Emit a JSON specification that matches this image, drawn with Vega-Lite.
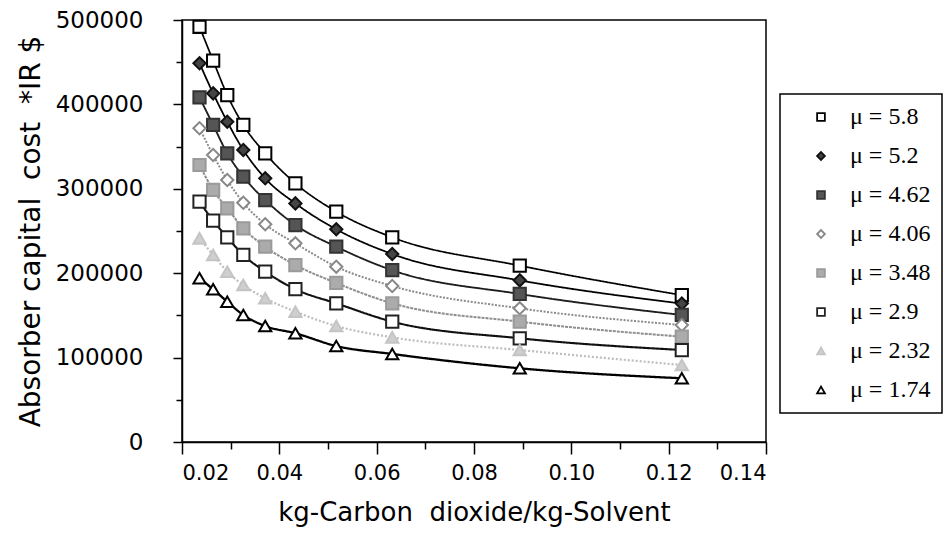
{
  "$schema": "https://vega.github.io/schema/vega-lite/v6.json",
  "width": 584,
  "height": 422,
  "autosize": {"type": "none"},
  "padding": {"left": 182, "top": 20, "right": 179, "bottom": 98},
  "background": "white",
  "config": {
    "view": {"stroke": "#000", "strokeWidth": 1.5},
    "axis": {
      "domainColor": "#000",
      "domainWidth": 1.5,
      "tickColor": "#000",
      "tickWidth": 1.5,
      "labelColor": "#000",
      "titleColor": "#000",
      "labelFont": "DejaVu Sans",
      "titleFont": "DejaVu Sans",
      "titleFontWeight": "normal",
      "grid": false
    },
    "legend": {
      "orient": "none",
      "legendX": 598,
      "legendY": 74,
      "padding": 11,
      "symbolOffset": 18,
      "symbolSize": 60,
      "symbolStrokeWidth": 1.8,
      "labelFont": "Liberation Serif",
      "labelFontSize": 24,
      "labelColor": "#000",
      "labelOffset": 17,
      "labelLimit": 400,
      "rowPadding": 15,
      "strokeColor": "#000",
      "strokeWidth": 1.5,
      "fillColor": "white"
    }
  },
  "datasets": {
    "pts": [
      {"x": 0.0236, "y": 492000, "mu": "5.8"}, {"x": 0.0264, "y": 451800, "mu": "5.8"}, {"x": 0.0293, "y": 411100, "mu": "5.8"}, {"x": 0.0326, "y": 375600, "mu": "5.8"}, {"x": 0.0371, "y": 342000, "mu": "5.8"}, {"x": 0.0433, "y": 306500, "mu": "5.8"}, {"x": 0.0517, "y": 272900, "mu": "5.8"}, {"x": 0.0632, "y": 242500, "mu": "5.8"}, {"x": 0.0894, "y": 209000, "mu": "5.8"}, {"x": 0.1227, "y": 174000, "mu": "5.8"},
      {"x": 0.0236, "y": 448700, "mu": "5.2"}, {"x": 0.0264, "y": 413100, "mu": "5.2"}, {"x": 0.0293, "y": 379500, "mu": "5.2"}, {"x": 0.0326, "y": 346000, "mu": "5.2"}, {"x": 0.0371, "y": 312400, "mu": "5.2"}, {"x": 0.0433, "y": 282700, "mu": "5.2"}, {"x": 0.0517, "y": 252000, "mu": "5.2"}, {"x": 0.0632, "y": 222700, "mu": "5.2"}, {"x": 0.0894, "y": 191500, "mu": "5.2"}, {"x": 0.1227, "y": 164000, "mu": "5.2"},
      {"x": 0.0236, "y": 408400, "mu": "4.62"}, {"x": 0.0264, "y": 375600, "mu": "4.62"}, {"x": 0.0293, "y": 342000, "mu": "4.62"}, {"x": 0.0326, "y": 314300, "mu": "4.62"}, {"x": 0.0371, "y": 286700, "mu": "4.62"}, {"x": 0.0433, "y": 257100, "mu": "4.62"}, {"x": 0.0517, "y": 231400, "mu": "4.62"}, {"x": 0.0632, "y": 203500, "mu": "4.62"}, {"x": 0.0894, "y": 175400, "mu": "4.62"}, {"x": 0.1227, "y": 150500, "mu": "4.62"},
      {"x": 0.0236, "y": 371700, "mu": "4.06"}, {"x": 0.0264, "y": 340000, "mu": "4.06"}, {"x": 0.0293, "y": 310400, "mu": "4.06"}, {"x": 0.0326, "y": 283500, "mu": "4.06"}, {"x": 0.0371, "y": 258000, "mu": "4.06"}, {"x": 0.0433, "y": 235400, "mu": "4.06"}, {"x": 0.0517, "y": 207700, "mu": "4.06"}, {"x": 0.0632, "y": 184800, "mu": "4.06"}, {"x": 0.0894, "y": 158400, "mu": "4.06"}, {"x": 0.1227, "y": 138600, "mu": "4.06"},
      {"x": 0.0236, "y": 328200, "mu": "3.48"}, {"x": 0.0264, "y": 298600, "mu": "3.48"}, {"x": 0.0293, "y": 276900, "mu": "3.48"}, {"x": 0.0326, "y": 253200, "mu": "3.48"}, {"x": 0.0371, "y": 231400, "mu": "3.48"}, {"x": 0.0433, "y": 209700, "mu": "3.48"}, {"x": 0.0517, "y": 188400, "mu": "3.48"}, {"x": 0.0632, "y": 164300, "mu": "3.48"}, {"x": 0.0894, "y": 142600, "mu": "3.48"}, {"x": 0.1227, "y": 124800, "mu": "3.48"},
      {"x": 0.0236, "y": 284700, "mu": "2.9"}, {"x": 0.0264, "y": 262200, "mu": "2.9"}, {"x": 0.0293, "y": 242500, "mu": "2.9"}, {"x": 0.0326, "y": 221600, "mu": "2.9"}, {"x": 0.0371, "y": 201900, "mu": "2.9"}, {"x": 0.0433, "y": 181000, "mu": "2.9"}, {"x": 0.0517, "y": 164300, "mu": "2.9"}, {"x": 0.0632, "y": 142600, "mu": "2.9"}, {"x": 0.0894, "y": 122900, "mu": "2.9"}, {"x": 0.1227, "y": 109000, "mu": "2.9"},
      {"x": 0.0236, "y": 241300, "mu": "2.32"}, {"x": 0.0264, "y": 221600, "mu": "2.32"}, {"x": 0.0293, "y": 201800, "mu": "2.32"}, {"x": 0.0326, "y": 186000, "mu": "2.32"}, {"x": 0.0371, "y": 170300, "mu": "2.32"}, {"x": 0.0433, "y": 154400, "mu": "2.32"}, {"x": 0.0517, "y": 137400, "mu": "2.32"}, {"x": 0.0632, "y": 124000, "mu": "2.32"}, {"x": 0.0894, "y": 109000, "mu": "2.32"}, {"x": 0.1227, "y": 91200, "mu": "2.32"},
      {"x": 0.0236, "y": 194000, "mu": "1.74"}, {"x": 0.0264, "y": 180900, "mu": "1.74"}, {"x": 0.0293, "y": 166200, "mu": "1.74"}, {"x": 0.0326, "y": 150500, "mu": "1.74"}, {"x": 0.0371, "y": 137400, "mu": "1.74"}, {"x": 0.0433, "y": 128800, "mu": "1.74"}, {"x": 0.0517, "y": 113700, "mu": "1.74"}, {"x": 0.0632, "y": 104300, "mu": "1.74"}, {"x": 0.0894, "y": 87300, "mu": "1.74"}, {"x": 0.1227, "y": 75500, "mu": "1.74"}
    ]
  },
  "data": {"name": "pts"},
  "encoding": {
    "x": {
      "field": "x",
      "type": "quantitative",
      "scale": {"domain": [0.02, 0.14], "nice": false, "zero": false},
      "axis": {
        "title": "kg-Carbon \u00a0dioxide/kg-Solvent",
        "titleFontSize": 26,
        "titlePadding": 16,
        "values": [0.02, 0.03, 0.04, 0.05, 0.06, 0.07, 0.08, 0.09, 0.10, 0.11, 0.12, 0.13, 0.14],
        "labelExpr": "round(datum.value*100) % 2 == 0 ? format(datum.value, '.2f') : ''",
        "labelFontSize": 21,
        "labelPadding": 8,
        "tickSize": {"condition": {"test": "round(datum.value*100) % 2 == 0", "value": 12}, "value": 7}
      }
    },
    "y": {
      "field": "y",
      "type": "quantitative",
      "scale": {"domain": [0, 500000], "nice": false},
      "axis": {
        "title": "Absorber capital \u00a0cost \u00a0*IR $",
        "titleFontSize": 28,
        "titlePadding": 10,
        "values": [0, 50000, 100000, 150000, 200000, 250000, 300000, 350000, 400000, 450000, 500000],
        "format": "d",
        "labelExpr": "datum.value % 100000 == 0 ? datum.label : ''",
        "labelFontSize": 23,
        "labelPadding": 30,
        "tickSize": {"condition": {"test": "datum.value % 100000 == 0", "value": 9}, "value": 6}
      }
    }
  },
  "layer": [
    {
      "mark": {"type": "line", "interpolate": "monotone"},
      "encoding": {
        "detail": {"field": "mu", "type": "nominal"},
        "color": {
          "field": "mu", "type": "nominal", "legend": null,
          "scale": {"range": ["#000000", "#bdbdbd", "#111111", "#8f8f8f", "#8a8a8a", "#1e1e1e", "#000000", "#000000"]}
        },
        "strokeWidth": {
          "field": "mu", "type": "nominal", "legend": null,
          "scale": {"range": [2.3, 1.7, 1.8, 1.9, 1.8, 2.0, 2.3, 2.3]}
        },
        "strokeDash": {
          "field": "mu", "type": "nominal", "legend": null,
          "scale": {"range": [[1, 0], [2, 2], [1, 0], [3, 1], [2, 1.5], [1, 0], [1, 0], [1, 0]]}
        }
      }
    },
    {
      "mark": {"type": "point", "size": 150, "strokeWidth": 2, "opacity": 1},
      "encoding": {
        "shape": {
          "field": "mu", "type": "nominal",
          "scale": {"domain": ["5.8", "5.2", "4.62", "4.06", "3.48", "2.9", "2.32", "1.74"],
                    "range": ["square", "diamond", "square", "diamond", "square", "square", "triangle-up", "triangle-up"]},
          "legend": {"title": null, "labelExpr": "'μ = ' + datum.label + '\u00a0\u00a0\u00a0\u00a0\u00a0\u00a0\u00a0\u00a0\u00a0\u00a0\u00a0\u00a0'"}
        },
        "fill": {
          "field": "mu", "type": "nominal",
          "scale": {"domain": ["5.8", "5.2", "4.62", "4.06", "3.48", "2.9", "2.32", "1.74"],
                    "range": ["#ffffff", "#444444", "#555555", "#ffffff", "#ababab", "#ffffff", "#cfcfcf", "#ffffff"]},
          "legend": {"title": null, "labelExpr": "'μ = ' + datum.label + '\u00a0\u00a0\u00a0\u00a0\u00a0\u00a0\u00a0\u00a0\u00a0\u00a0\u00a0\u00a0'"}
        },
        "stroke": {
          "field": "mu", "type": "nominal",
          "scale": {"domain": ["5.8", "5.2", "4.62", "4.06", "3.48", "2.9", "2.32", "1.74"],
                    "range": ["#000000", "#111111", "#333333", "#888888", "#9a9a9a", "#222222", "#c4c4c4", "#000000"]},
          "legend": {"title": null, "labelExpr": "'μ = ' + datum.label + '\u00a0\u00a0\u00a0\u00a0\u00a0\u00a0\u00a0\u00a0\u00a0\u00a0\u00a0\u00a0'"}
        }
      }
    }
  ]
}
